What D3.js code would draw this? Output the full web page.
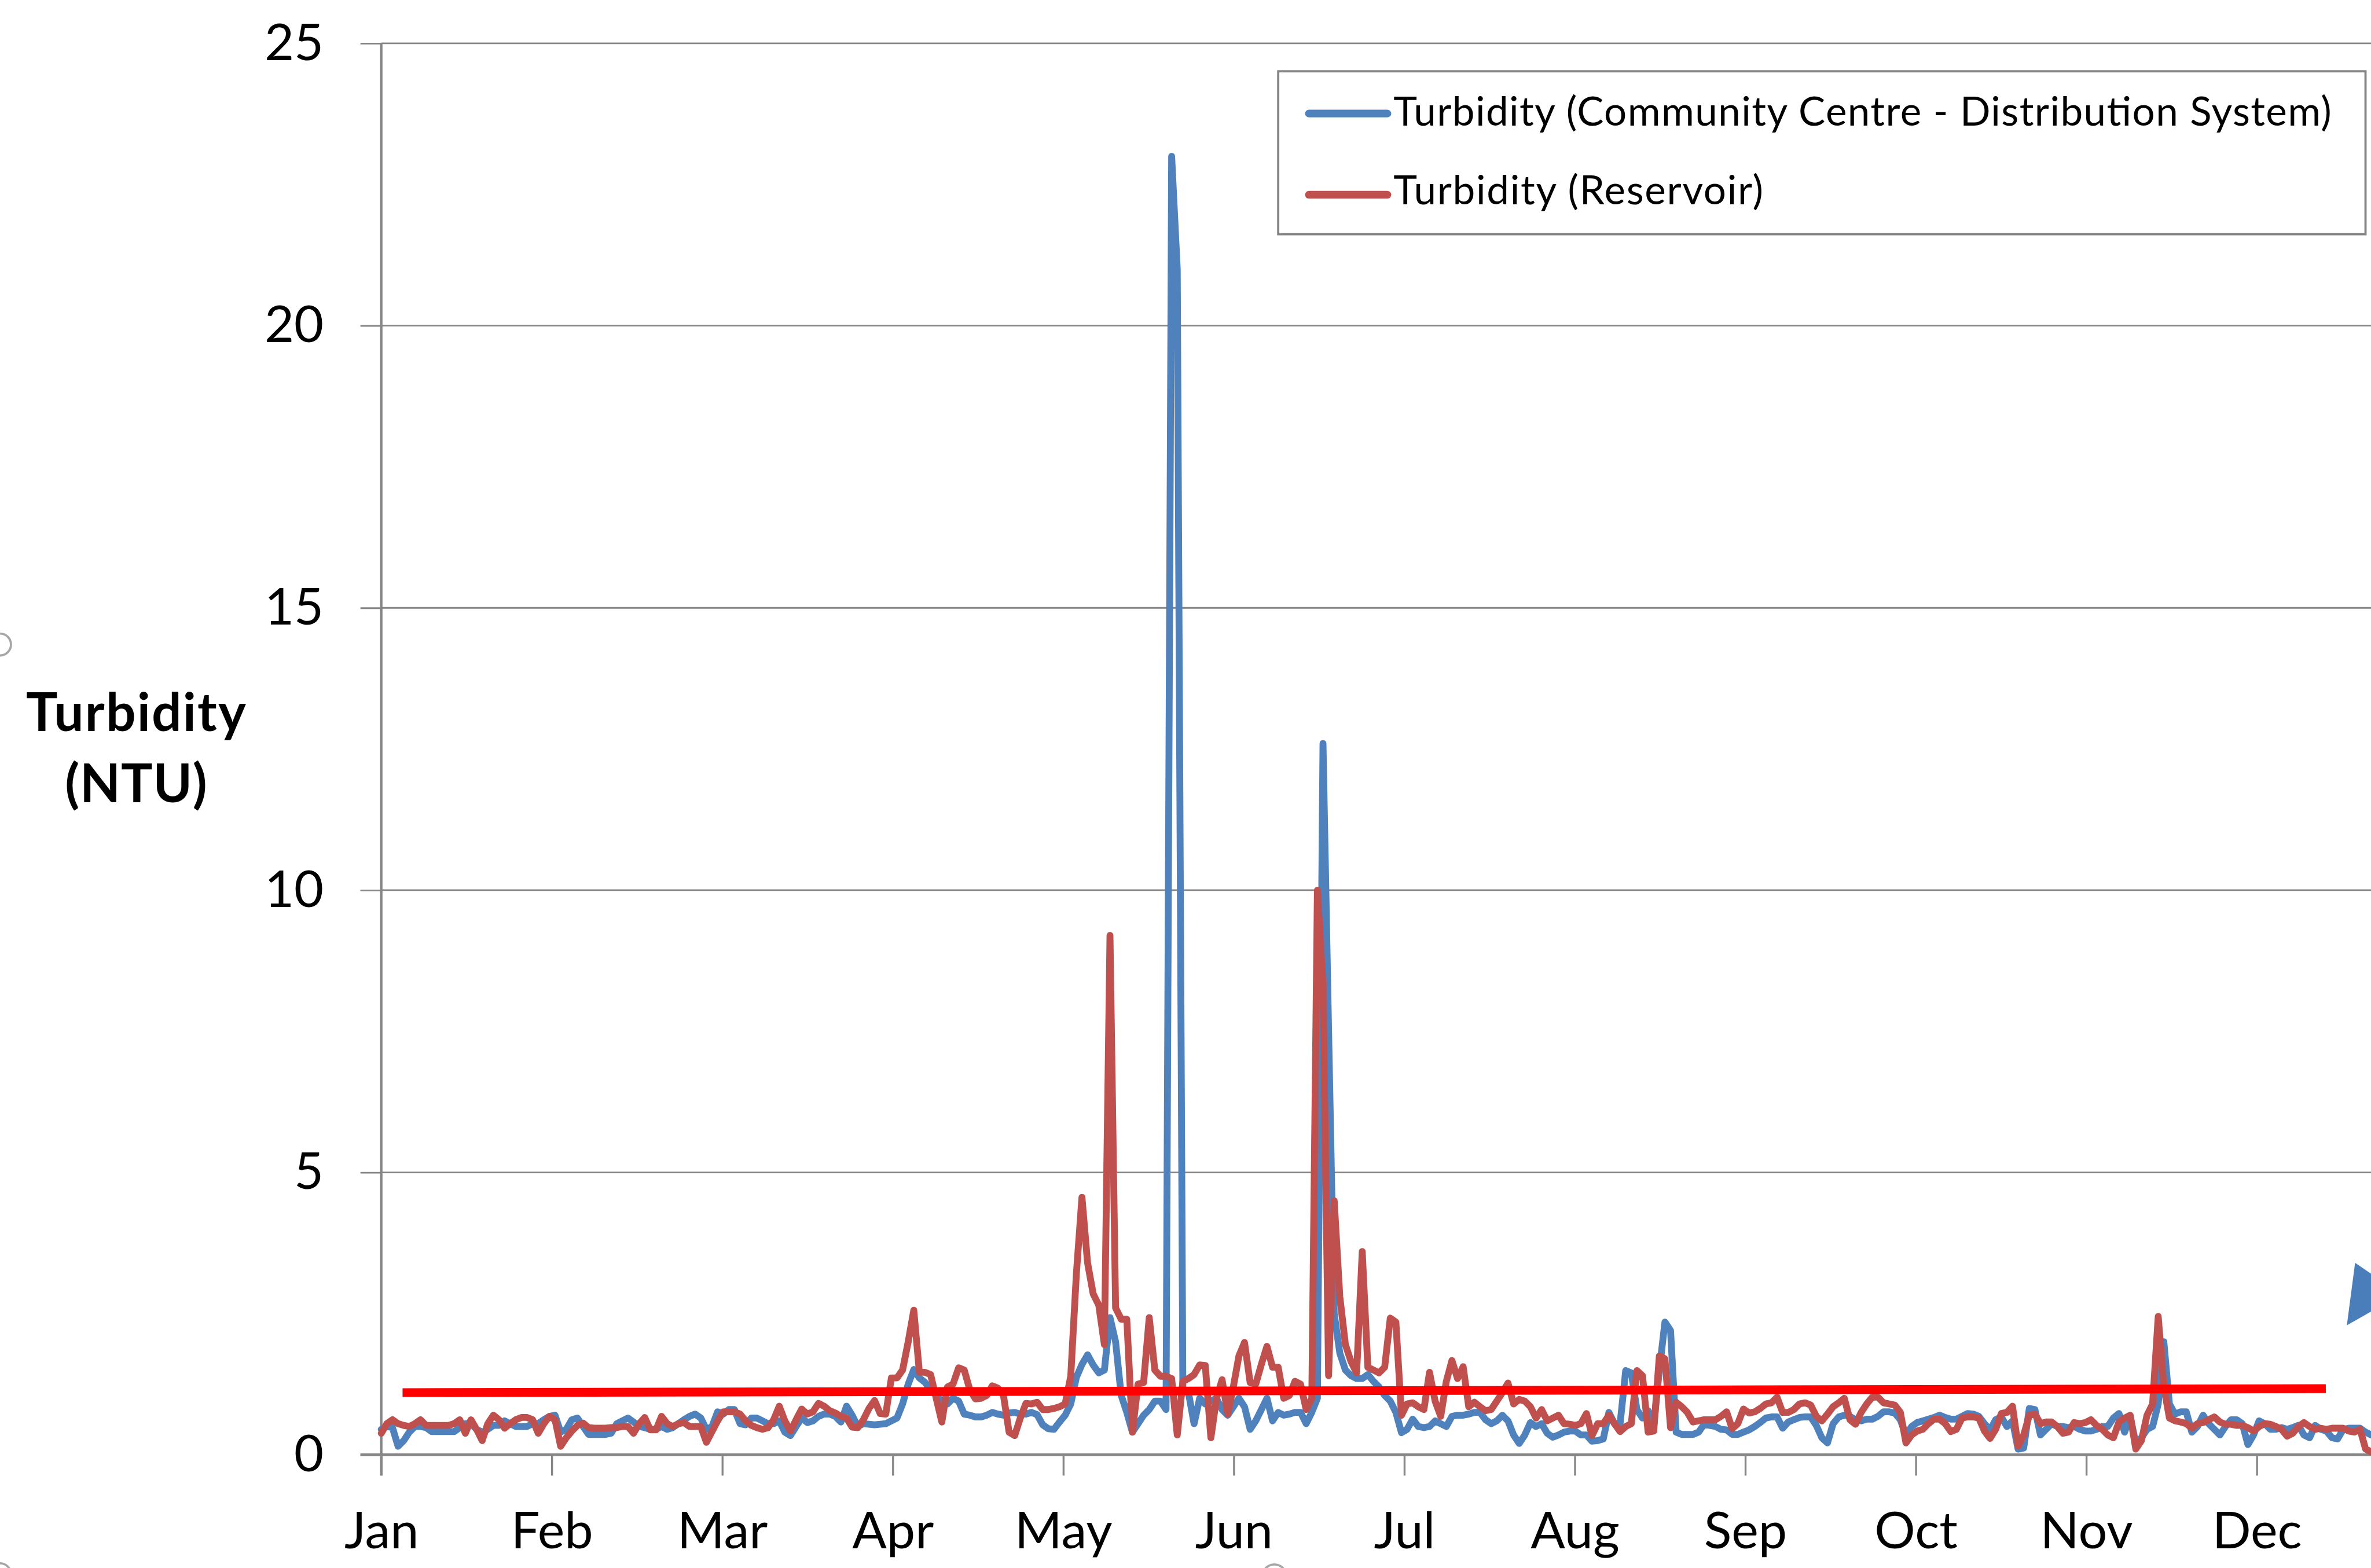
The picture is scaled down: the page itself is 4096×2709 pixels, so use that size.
<!DOCTYPE html>
<html>
<head>
<meta charset="utf-8">
<script src="https://cdn.jsdelivr.net/npm/d3@7"></script>
<style>
  html, body { margin: 0; padding: 0; background: #fff; overflow: hidden; }
  svg { display: block; }
</style>
</head>
<body>
<svg id="chart" width="4096" height="2709"></svg>
<script>
// ---- data -------------------------------------------------------------
const months = ["Jan", "Feb", "Mar", "Apr", "May", "Jun", "Jul", "Aug", "Sep", "Oct", "Nov", "Dec"];
const yTicks = [0, 5, 10, 15, 20, 25];
const seriesNames = [
  "Turbidity (Community Centre - Distribution System)",
  "Turbidity (Reservoir)"
];

// daily turbidity (NTU), index = day of year starting 1 Jan
const distribution = [
  0.45, 0.50, 0.48, 0.15, 0.25, 0.40, 0.50, 0.50, 0.48, 0.41,
  0.41, 0.41, 0.41, 0.41, 0.48, 0.55, 0.55, 0.45, 0.40, 0.45,
  0.52, 0.52, 0.60, 0.55, 0.50, 0.50, 0.50, 0.55, 0.55, 0.62,
  0.68, 0.70, 0.40, 0.45, 0.62, 0.65, 0.50, 0.36, 0.36, 0.36,
  0.36, 0.38, 0.55, 0.60, 0.65, 0.58, 0.50, 0.48, 0.45, 0.45,
  0.50, 0.45, 0.48, 0.55, 0.62, 0.68, 0.72, 0.65, 0.45, 0.50,
  0.76, 0.72, 0.80, 0.80, 0.55, 0.53, 0.65, 0.65, 0.60, 0.55,
  0.55, 0.60, 0.40, 0.34, 0.50, 0.65, 0.57, 0.60, 0.68, 0.72,
  0.72, 0.68, 0.58, 0.86, 0.70, 0.50, 0.55, 0.54, 0.53, 0.54,
  0.55, 0.60, 0.65, 0.90, 1.25, 1.51, 1.36, 1.28, 1.15, 1.05,
  0.95, 0.90, 1.00, 0.95, 0.72, 0.70, 0.67, 0.67, 0.70, 0.75,
  0.72, 0.70, 0.74, 0.75, 0.72, 0.72, 0.75, 0.71, 0.53, 0.46,
  0.45, 0.58, 0.70, 0.90, 1.37, 1.60, 1.77, 1.59, 1.45, 1.50,
  2.43, 2.00, 1.05, 0.75, 0.40, 0.55, 0.70, 0.80, 0.95, 0.95,
  0.80, 23.0, 21.0, 1.15, 1.10, 0.55, 1.00, 0.90, 0.95, 1.00,
  0.80, 0.70, 0.85, 1.00, 0.85, 0.45, 0.60, 0.80, 1.00, 0.60,
  0.75, 0.70, 0.72, 0.75, 0.75, 0.55, 0.75, 1.00, 12.6, 7.50,
  2.50, 1.80, 1.50, 1.40, 1.35, 1.35, 1.42, 1.30, 1.20, 1.05,
  0.95, 0.75, 0.39, 0.45, 0.63, 0.50, 0.48, 0.50, 0.60, 0.55,
  0.50, 0.68, 0.70, 0.70, 0.72, 0.75, 0.75, 0.62, 0.55, 0.60,
  0.70, 0.60, 0.35, 0.20, 0.35, 0.57, 0.50, 0.55, 0.38, 0.31,
  0.35, 0.40, 0.42, 0.42, 0.35, 0.35, 0.24, 0.25, 0.28, 0.75,
  0.55, 0.55, 1.49, 1.45, 0.80, 0.65, 0.78, 0.50, 1.50, 2.35,
  2.20, 0.40, 0.36, 0.36, 0.36, 0.40, 0.54, 0.52, 0.50, 0.45,
  0.44, 0.36, 0.36, 0.40, 0.44, 0.50, 0.57, 0.65, 0.67, 0.67,
  0.47, 0.58, 0.62, 0.66, 0.67, 0.67, 0.52, 0.30, 0.21, 0.55,
  0.67, 0.70, 0.68, 0.62, 0.60, 0.63, 0.63, 0.68, 0.76, 0.76,
  0.74, 0.62, 0.34, 0.50, 0.57, 0.60, 0.63, 0.66, 0.70, 0.66,
  0.63, 0.63, 0.68, 0.73, 0.72, 0.68, 0.55, 0.44, 0.62, 0.67,
  0.50, 0.60, 0.10, 0.12, 0.82, 0.80, 0.35, 0.45, 0.55, 0.50,
  0.50, 0.48, 0.50, 0.45, 0.42, 0.42, 0.45, 0.50, 0.50, 0.65,
  0.73, 0.40, 0.68, 0.20, 0.30, 0.45, 0.50, 0.90, 2.00, 0.90,
  0.72, 0.76, 0.76, 0.40, 0.50, 0.70, 0.55, 0.45, 0.35, 0.50,
  0.62, 0.62, 0.55, 0.18, 0.35, 0.60, 0.55, 0.45, 0.45, 0.48,
  0.45, 0.48, 0.52, 0.35, 0.30, 0.52, 0.45, 0.42, 0.30, 0.28,
  0.45, 0.47, 0.47, 0.47, 0.40, 0.35
];

const reservoir = [
  0.38, 0.55, 0.62, 0.55, 0.52, 0.50, 0.55, 0.62, 0.52, 0.52,
  0.52, 0.52, 0.52, 0.55, 0.62, 0.38, 0.62, 0.45, 0.25, 0.55,
  0.70, 0.62, 0.47, 0.55, 0.62, 0.66, 0.66, 0.62, 0.38, 0.55,
  0.68, 0.62, 0.15, 0.30, 0.42, 0.52, 0.56, 0.48, 0.47, 0.47,
  0.47, 0.48, 0.48, 0.50, 0.50, 0.38, 0.55, 0.66, 0.44, 0.44,
  0.68, 0.55, 0.50, 0.55, 0.57, 0.50, 0.50, 0.50, 0.22, 0.41,
  0.60, 0.76, 0.76, 0.76, 0.72, 0.60, 0.52, 0.48, 0.45, 0.48,
  0.62, 0.86, 0.60, 0.42, 0.62, 0.81, 0.72, 0.76, 0.91, 0.86,
  0.78, 0.74, 0.68, 0.65, 0.49, 0.48, 0.62, 0.82, 0.96, 0.73,
  0.72, 1.36, 1.36, 1.50, 2.00, 2.56, 1.46, 1.46, 1.42, 1.00,
  0.58, 1.20, 1.25, 1.54, 1.50, 1.15, 0.99, 1.00, 1.05, 1.22,
  1.18, 1.05, 0.40, 0.34, 0.65, 0.91, 0.90, 0.93, 0.80, 0.80,
  0.82, 0.85, 0.90, 1.39, 3.20, 4.56, 3.40, 2.85, 2.65, 1.95,
  9.20, 2.60, 2.40, 2.40, 0.40, 1.25, 1.28, 2.43, 1.50, 1.39,
  1.39, 1.35, 0.35, 1.30, 1.35, 1.42, 1.59, 1.58, 0.30, 1.00,
  1.33, 0.72, 1.20, 1.75, 1.99, 1.28, 1.25, 1.60, 1.92, 1.55,
  1.55, 1.00, 1.05, 1.30, 1.25, 0.80, 1.00, 10.0, 8.30, 1.40,
  4.50, 2.80, 1.95, 1.65, 1.45, 3.60, 1.55, 1.50, 1.45, 1.55,
  2.42, 2.35, 0.70, 0.90, 0.92, 0.85, 0.80, 1.46, 0.95, 0.68,
  1.30, 1.67, 1.35, 1.56, 0.85, 0.93, 0.85, 0.78, 0.80, 0.95,
  1.10, 1.27, 0.90, 0.98, 0.95, 0.85, 0.65, 0.80, 0.60, 0.65,
  0.70, 0.55, 0.54, 0.52, 0.55, 0.73, 0.34, 0.55, 0.55, 0.70,
  0.55, 0.41, 0.50, 0.55, 1.49, 1.40, 0.40, 0.42, 1.75, 1.70,
  0.48, 0.93, 0.85, 0.75, 0.58, 0.60, 0.62, 0.62, 0.62, 0.68,
  0.76, 0.46, 0.55, 0.81, 0.74, 0.76, 0.82, 0.90, 0.92, 1.02,
  0.75, 0.75, 0.80, 0.90, 0.92, 0.88, 0.68, 0.60, 0.72, 0.85,
  0.92, 1.00, 0.62, 0.54, 0.75, 0.90, 1.02, 1.02, 0.92, 0.90,
  0.88, 0.75, 0.21, 0.35, 0.42, 0.45, 0.55, 0.63, 0.63, 0.55,
  0.41, 0.45, 0.65, 0.67, 0.67, 0.65, 0.42, 0.29, 0.45, 0.73,
  0.75, 0.86, 0.15, 0.35, 0.70, 0.72, 0.55, 0.58, 0.58, 0.50,
  0.38, 0.40, 0.57, 0.55, 0.57, 0.62, 0.52, 0.45, 0.35, 0.30,
  0.58, 0.65, 0.70, 0.10, 0.25, 0.70, 0.90, 2.45, 1.20, 0.65,
  0.60, 0.58, 0.55, 0.47, 0.55, 0.57, 0.62, 0.67, 0.58, 0.54,
  0.54, 0.52, 0.52, 0.48, 0.42, 0.50, 0.55, 0.54, 0.50, 0.45,
  0.33, 0.38, 0.50, 0.57, 0.50, 0.45, 0.47, 0.45, 0.47, 0.47,
  0.47, 0.42, 0.40, 0.45, 0.10, 0.05
];

// hand-drawn guideline across the year (day of year, NTU)
const guideDays = [3.8, 346.9];
const guideValues = [1.10, 1.17];

// ---- layout (design units, scaled to the window) -----------------------
const W = 4322, H = 2858;
const S = 4096 / W;
const plotLeft = 695, plotTop = 79, plotBottom = 2652;
const monthWidth = 310.8;
const BLUE = "#4F81BD", RED = "#C0504D", GUIDE = "#FF0000", AXIS = "#868686";
const FONT = "Lato, 'Open Sans', sans-serif";

const svg = d3.select("#chart");
const g = svg.append("g").attr("transform", `scale(${S})`);

const x = d3.scaleLinear().domain([0, 365]).range([plotLeft, plotLeft + 12 * monthWidth]);
const y = d3.scaleLinear().domain([0, 25]).range([plotBottom, plotTop]);
const monthTicks = months.map((m, i) => i * 365 / 12);

// horizontal gridlines
g.append("g").selectAll("line")
  .data(yTicks.filter(v => v > 0))
  .join("line")
  .attr("x1", plotLeft).attr("x2", W)
  .attr("y1", d => y(d)).attr("y2", d => y(d))
  .attr("stroke", AXIS).attr("stroke-width", 3);

// y axis: stubs + labels
const yAxis = g.append("g")
  .attr("transform", `translate(${plotLeft},0)`)
  .call(d3.axisLeft(y).tickValues(yTicks).tickSize(38).tickPadding(67));
yAxis.select(".domain").remove();
yAxis.selectAll(".tick line").attr("stroke", AXIS).attr("stroke-width", 3);
yAxis.selectAll(".tick text")
  .attr("font-family", FONT).attr("font-size", 93).attr("fill", "#000")
  .attr("dy", "0.32em");

// x axis: ticks + month labels
const xAxis = g.append("g")
  .attr("transform", `translate(0,${plotBottom})`)
  .call(d3.axisBottom(x).tickValues(monthTicks).tickFormat((d, i) => months[i]).tickSize(38));
xAxis.select(".domain").remove();
xAxis.selectAll(".tick line").attr("stroke", AXIS).attr("stroke-width", 3.5);
xAxis.selectAll(".tick text")
  .attr("font-family", FONT).attr("font-size", 93).attr("fill", "#000")
  .attr("y", 171).attr("dy", 0);

// axis lines
g.append("line")
  .attr("x1", plotLeft).attr("x2", plotLeft)
  .attr("y1", plotTop).attr("y2", plotBottom + 38)
  .attr("stroke", AXIS).attr("stroke-width", 4.5);
g.append("line")
  .attr("x1", plotLeft - 38).attr("x2", W)
  .attr("y1", plotBottom).attr("y2", plotBottom)
  .attr("stroke", AXIS).attr("stroke-width", 5);

// series
const line = d3.line().x((d, i) => x(i)).y(d => y(d));
const series = g.append("g");
series.append("path")
  .attr("d", line(distribution))
  .attr("fill", "none").attr("stroke", BLUE).attr("stroke-width", 12.5)
  .attr("stroke-linejoin", "round").attr("stroke-linecap", "round");
series.append("path")
  .attr("d", line(reservoir))
  .attr("fill", "none").attr("stroke", RED).attr("stroke-width", 12.5)
  .attr("stroke-linejoin", "round").attr("stroke-linecap", "round");

// guideline
g.append("path")
  .attr("d", d3.line().x(d => x(d[0])).y(d => y(d[1]))(d3.zip(guideDays, guideValues)))
  .attr("fill", "none").attr("stroke", GUIDE).attr("stroke-width", 16);

// y axis title
const title = g.append("text")
  .attr("font-family", FONT).attr("font-weight", 700).attr("font-size", 96)
  .attr("fill", "#000").attr("text-anchor", "middle");
title.append("tspan").attr("x", 248).attr("y", 1333)
  .attr("textLength", 401).attr("lengthAdjust", "spacing").text("Turbidity");
title.append("tspan").attr("x", 248).attr("y", 1463)
  .attr("textLength", 259).attr("lengthAdjust", "spacing").text("(NTU)");

// legend
const legend = g.append("g");
legend.append("rect")
  .attr("x", 2330).attr("y", 130).attr("width", 1982).attr("height", 297)
  .attr("fill", "#fff").attr("stroke", "#848484").attr("stroke-width", 4);
const legendRows = [
  { name: seriesNames[0], color: BLUE, cy: 207, base: 229, len: 1710 },
  { name: seriesNames[1], color: RED, cy: 355, base: 373, len: 674 }
];
const rows = legend.selectAll("g.row").data(legendRows).join("g").attr("class", "row");
rows.append("line")
  .attr("x1", 2386).attr("x2", 2529)
  .attr("y1", d => d.cy).attr("y2", d => d.cy)
  .attr("stroke", d => d.color).attr("stroke-width", 14).attr("stroke-linecap", "round");
rows.append("text")
  .attr("x", 2540).attr("y", d => d.base)
  .attr("font-family", FONT).attr("font-size", 73).attr("fill", "#000")
  .attr("textLength", d => d.len).attr("lengthAdjust", "spacing")
  .text(d => d.name);

// arrow shape entering from the right edge
g.append("path")
  .attr("d", "M4293,2302 L4322,2322 L4322,2391 L4278,2416 Z")
  .attr("fill", "#4A7EBB");

// selection handles at the frame edges
g.append("g").selectAll("circle")
  .data([[0, 1175, 20], [2323, 2874, 22], [0, 2870, 20]])
  .join("circle")
  .attr("cx", d => d[0]).attr("cy", d => d[1]).attr("r", d => d[2])
  .attr("fill", "none").attr("stroke", "#A6A6A6").attr("stroke-width", 4);
</script>
</body>
</html>
